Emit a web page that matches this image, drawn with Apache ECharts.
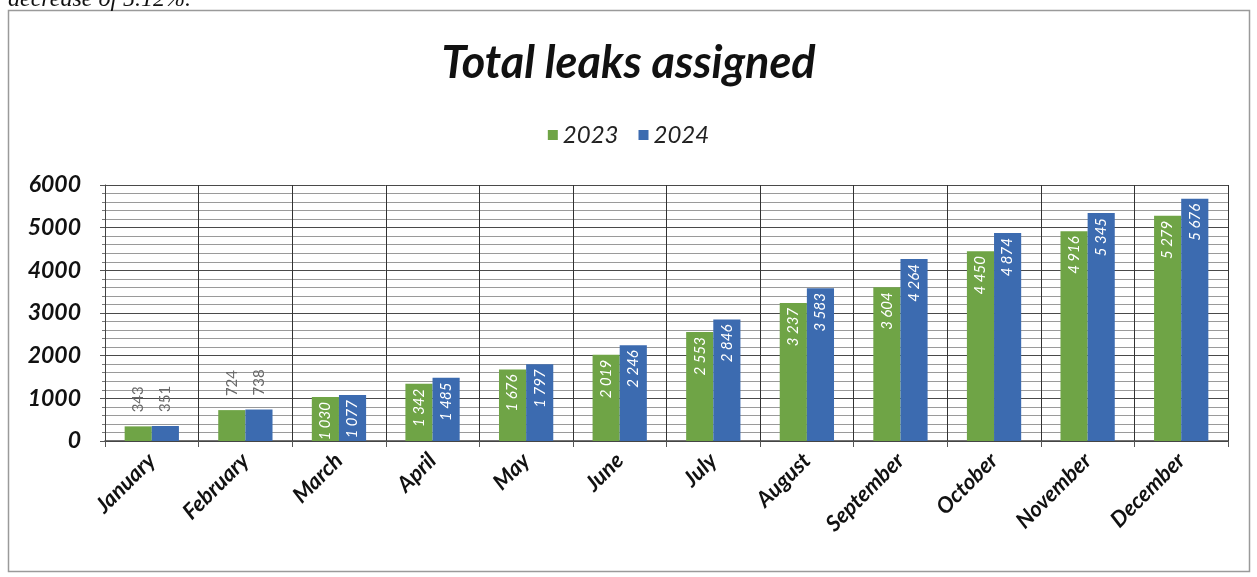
<!DOCTYPE html>
<html>
<head>
<meta charset="utf-8">
<script src="https://cdn.jsdelivr.net/npm/echarts@6/dist/echarts.min.js"></script>
<style>
  html, body { margin: 0; padding: 0; background: #ffffff; }
  #chart { width: 1257px; height: 577px; }
</style>
</head>
<body>
<div id="chart"></div>
<script>
// Monthly totals of leaks assigned
const months = ['January', 'February', 'March', 'April', 'May', 'June',
                'July', 'August', 'September', 'October', 'November', 'December'];
const leaks2023 = [343, 724, 1030, 1342, 1676, 2019, 2553, 3237, 3604, 4450, 4916, 5279];
const leaks2024 = [351, 738, 1077, 1485, 1797, 2246, 2846, 3583, 4264, 4874, 5345, 5676];
const yTicks = [0, 1000, 2000, 3000, 4000, 5000, 6000];

const FONT = 'Lato, "Open Sans", sans-serif';

// "5 279" style thousands grouping
function fmt(v) {
  return String(v).replace(/\B(?=(\d{3})+(?!\d))/g, ' ');
}

// Short bars carry their label above the bar, the rest inside
function barData(values) {
  return values.map(function (v) {
    if (v < 1000) {
      return {
        value: v,
        label: {
          position: 'top', rotate: 90, align: 'left', verticalAlign: 'middle',
          distance: 14, color: '#6a6a6a', fontStyle: 'normal'
        }
      };
    }
    return v;
  });
}

function makeSeries(name, values, color) {
  return {
    name: name,
    type: 'bar',
    data: barData(values),
    itemStyle: { color: color },
    barGap: '0%',
    barCategoryGap: '42%',
    label: {
      show: true,
      position: 'insideTop',
      rotate: 90,
      align: 'right',
      verticalAlign: 'middle',
      distance: 5,
      color: '#ffffff',
      fontFamily: FONT,
      fontStyle: 'italic',
      fontSize: 15,
      formatter: function (p) { return fmt(p.value); }
    }
  };
}

const chart = echarts.init(document.getElementById('chart'), null, { renderer: 'canvas' });

chart.setOption({
  backgroundColor: '#ffffff',
  animation: false,
  title: {
    text: 'Total leaks assigned',
    left: 'center',
    top: 36,
    textStyle: {
      fontFamily: FONT, fontSize: 45, fontWeight: 'bold', fontStyle: 'italic', color: '#111111'
    }
  },
  legend: {
    top: 118,
    left: 'center',
    icon: 'rect',
    itemWidth: 10,
    itemHeight: 10,
    itemGap: 20,
    textStyle: { fontFamily: FONT, fontSize: 24, fontStyle: 'italic', color: '#222222' }
  },
  grid: { left: 105, right: 29, top: 185, bottom: 136, containLabel: false },
  xAxis: {
    type: 'category',
    data: months,
    boundaryGap: true,
    axisLine: { show: true, lineStyle: { color: '#444444', width: 1.5 } },
    axisTick: { show: true, alignWithLabel: false, length: 6, lineStyle: { color: '#555555' } },
    splitLine: { show: true, lineStyle: { color: '#333333', width: 1 } },
    axisLabel: {
      rotate: 45,
      margin: 16,
      interval: 0,
      fontFamily: FONT, fontSize: 22, fontWeight: 'bold', fontStyle: 'italic', color: '#111111'
    }
  },
  yAxis: {
    type: 'value',
    min: yTicks[0],
    max: yTicks[yTicks.length - 1],
    interval: 1000,
    axisLine: { show: true, lineStyle: { color: '#444444' } },
    axisTick: { show: true, length: 5, lineStyle: { color: '#555555' } },
    minorTick: { show: true, splitNumber: 5, length: 3, lineStyle: { color: '#777777' } },
    splitLine: { show: true, lineStyle: { color: '#4a4a4a', width: 1 } },
    minorSplitLine: { show: true, lineStyle: { color: '#9a9a9a', width: 1 } },
    axisLabel: {
      margin: 24,
      fontFamily: FONT, fontSize: 23, fontWeight: 'bold', fontStyle: 'italic', color: '#111111',
      formatter: function (v) { return yTicks.indexOf(v) >= 0 ? String(v) : ''; }
    }
  },
  graphic: [
    {
      type: 'rect',
      shape: { x: 8.5, y: 10.5, width: 1241, height: 561 },
      style: { fill: null, stroke: '#9a9a9a', lineWidth: 1.5 },
      silent: true, z: -1
    },
    {
      type: 'text',
      left: 8,
      top: -12,
      style: {
        text: 'decrease of 5.12%.',
        font: 'italic 24px "Liberation Serif", serif',
        fill: '#111111'
      },
      silent: true
    }
  ],
  series: [
    makeSeries('2023', leaks2023, '#6fa446'),
    makeSeries('2024', leaks2024, '#3c6bb0')
  ]
});
</script>
</body>
</html>
